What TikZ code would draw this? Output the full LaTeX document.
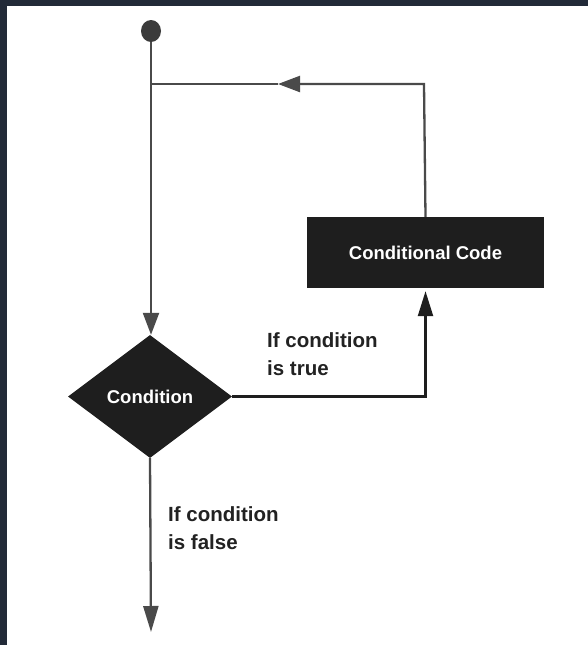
\documentclass[tikz,border=0pt]{standalone}
\usepackage{fontspec}
\setmainfont{Liberation Sans}
\usetikzlibrary{shapes.geometric,arrows.meta}
\definecolor{frame}{HTML}{222A38}
\definecolor{shapefill}{HTML}{1E1E1E}
\definecolor{graylink}{HTML}{4A4A4A}
\definecolor{textdark}{HTML}{222222}
\tikzset{
  flowline/.style={draw=graylink, line width=2.3pt},
  darkline/.style={draw=shapefill, line width=2.3pt},
  graytip/.style={-{Triangle[length=22pt,width=16pt]}},
  darktip/.style={-{Triangle[length=25pt,width=15pt]}},
  lbl/.style={font=\fontsize{20.5}{28}\selectfont\bfseries, text=textdark, inner sep=0pt, anchor=base west, align=left},
  whitelbl/.style={font=\fontsize{18.5}{22}\selectfont\bfseries, text=white},
  codebox/.style={rectangle, fill=shapefill, minimum width=237pt, minimum height=71pt, inner sep=0pt},
  decision/.style={diamond, fill=shapefill, minimum width=164pt, minimum height=123pt, inner sep=0pt},
  startdot/.style={ellipse, fill=graylink!80!black, minimum width=20pt, minimum height=22pt, inner sep=0pt}
}
\begin{document}
\begin{tikzpicture}[x=1pt,y=-1pt]
\useasboundingbox (0,0) rectangle (588,645);
\fill[frame] (0,0) rectangle (588,645);
\fill[white] (7,6) rectangle (588,645);

\node[startdot] (start) at (151,31) {};
\node[decision] (cond) at (150,396.5) {};
\node[whitelbl] (condtext) at (cond.center) {Condition};
\node[codebox] (code) at (425.5,252.5) {};
\node[whitelbl] (codetext) at (code.center) {Conditional Code};

\coordinate (join) at (151,84);
\coordinate (corner) at (424,84);
\coordinate (mid) at (278,84);
\coordinate (exit) at (151,632);

\draw[flowline] (start.south) -- (join);
\draw[flowline, graytip] (join) -- (join |- cond.north);
\draw[flowline, graytip] (code.north) -- (corner) -- (mid);
\draw[flowline] (mid) -- (join);
\draw[darkline, darktip, shorten >=3pt] (cond.east) -| (code.south);
\draw[flowline, -{Triangle[length=26pt,width=15pt]}] (cond.south) -- (exit);

\node[lbl] (truelbl) at (267,375) {If condition\\is true};
\node[lbl] (falselbl) at (168,549) {If condition\\is false};
\end{tikzpicture}
\end{document}
